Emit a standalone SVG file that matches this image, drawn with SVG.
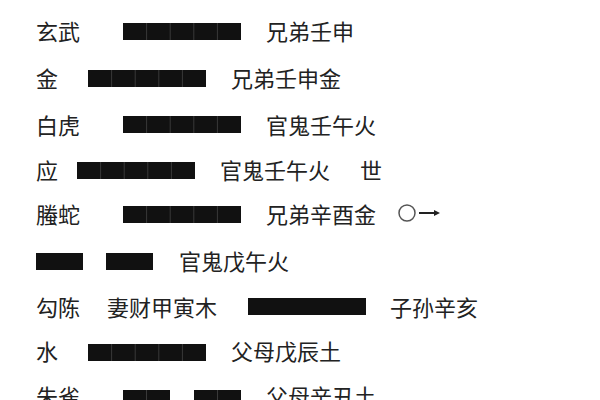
<svg xmlns="http://www.w3.org/2000/svg" width="600" height="400" viewBox="0 0 600 400">
<style>
text{font-family:"Noto Sans CJK SC",sans-serif;font-size:22px;fill:#222;dominant-baseline:central}
.b{fill:#111}
.s{stroke:#444;stroke-width:0.8}
</style>
<defs>
<g id="bar"><rect class="b" x="0" y="0" width="118" height="17"/><path class="s" d="M23.6 0v17M47.2 0v17M70.8 0v17M94.4 0v17"/></g>
<g id="half"><rect class="b" x="0" y="0" width="47" height="17"/><path class="s" d="M23.5 0v17"/></g>
</defs>
<rect width="600" height="400" fill="#fff"/>
<g id="l1"><text x="36" y="30">玄武</text><use href="#bar" x="123" y="23"/><text x="266" y="30">兄弟壬申</text></g>
<g id="l2"><text x="36" y="77">金</text><use href="#bar" x="88" y="70"/><text x="231" y="77">兄弟壬申金</text></g>
<g id="l3"><text x="36" y="124">白虎</text><use href="#bar" x="123" y="116"/><text x="266" y="124">官鬼壬午火</text></g>
<g id="l4"><text x="36" y="169">应</text><use href="#bar" x="77" y="162"/><text x="220" y="169">官鬼壬午火</text><text x="360" y="169">世</text></g>
<g id="l5"><text x="36" y="213">螣蛇</text><use href="#bar" x="123" y="206"/><text x="266" y="213">兄弟辛酉金</text>
<circle cx="407" cy="213" r="8" fill="none" stroke="#555" stroke-width="1.5"/><path d="M419 213h16" stroke="#222" stroke-width="2"/><path d="M440 213l-6-3v6z" fill="#222"/></g>
<g id="l6"><rect class="b" x="36" y="253" width="47" height="17"/><rect class="b" x="106" y="253" width="47" height="17"/><text x="179" y="260">官鬼戊午火</text></g>
<g id="l7"><text x="36" y="306">勾陈</text><text x="107" y="306">妻财甲寅木</text><rect class="b" x="248" y="298" width="118" height="17"/><text x="390" y="306">子孙辛亥</text></g>
<g id="l8"><text x="36" y="350">水</text><use href="#bar" x="88" y="344"/><text x="231" y="350">父母戊辰土</text></g>
<g id="l9"><text x="36" y="395">朱雀</text><use href="#half" x="123" y="390"/><use href="#half" x="194" y="390"/><text x="266" y="395">父母辛丑土</text></g>
</svg>
